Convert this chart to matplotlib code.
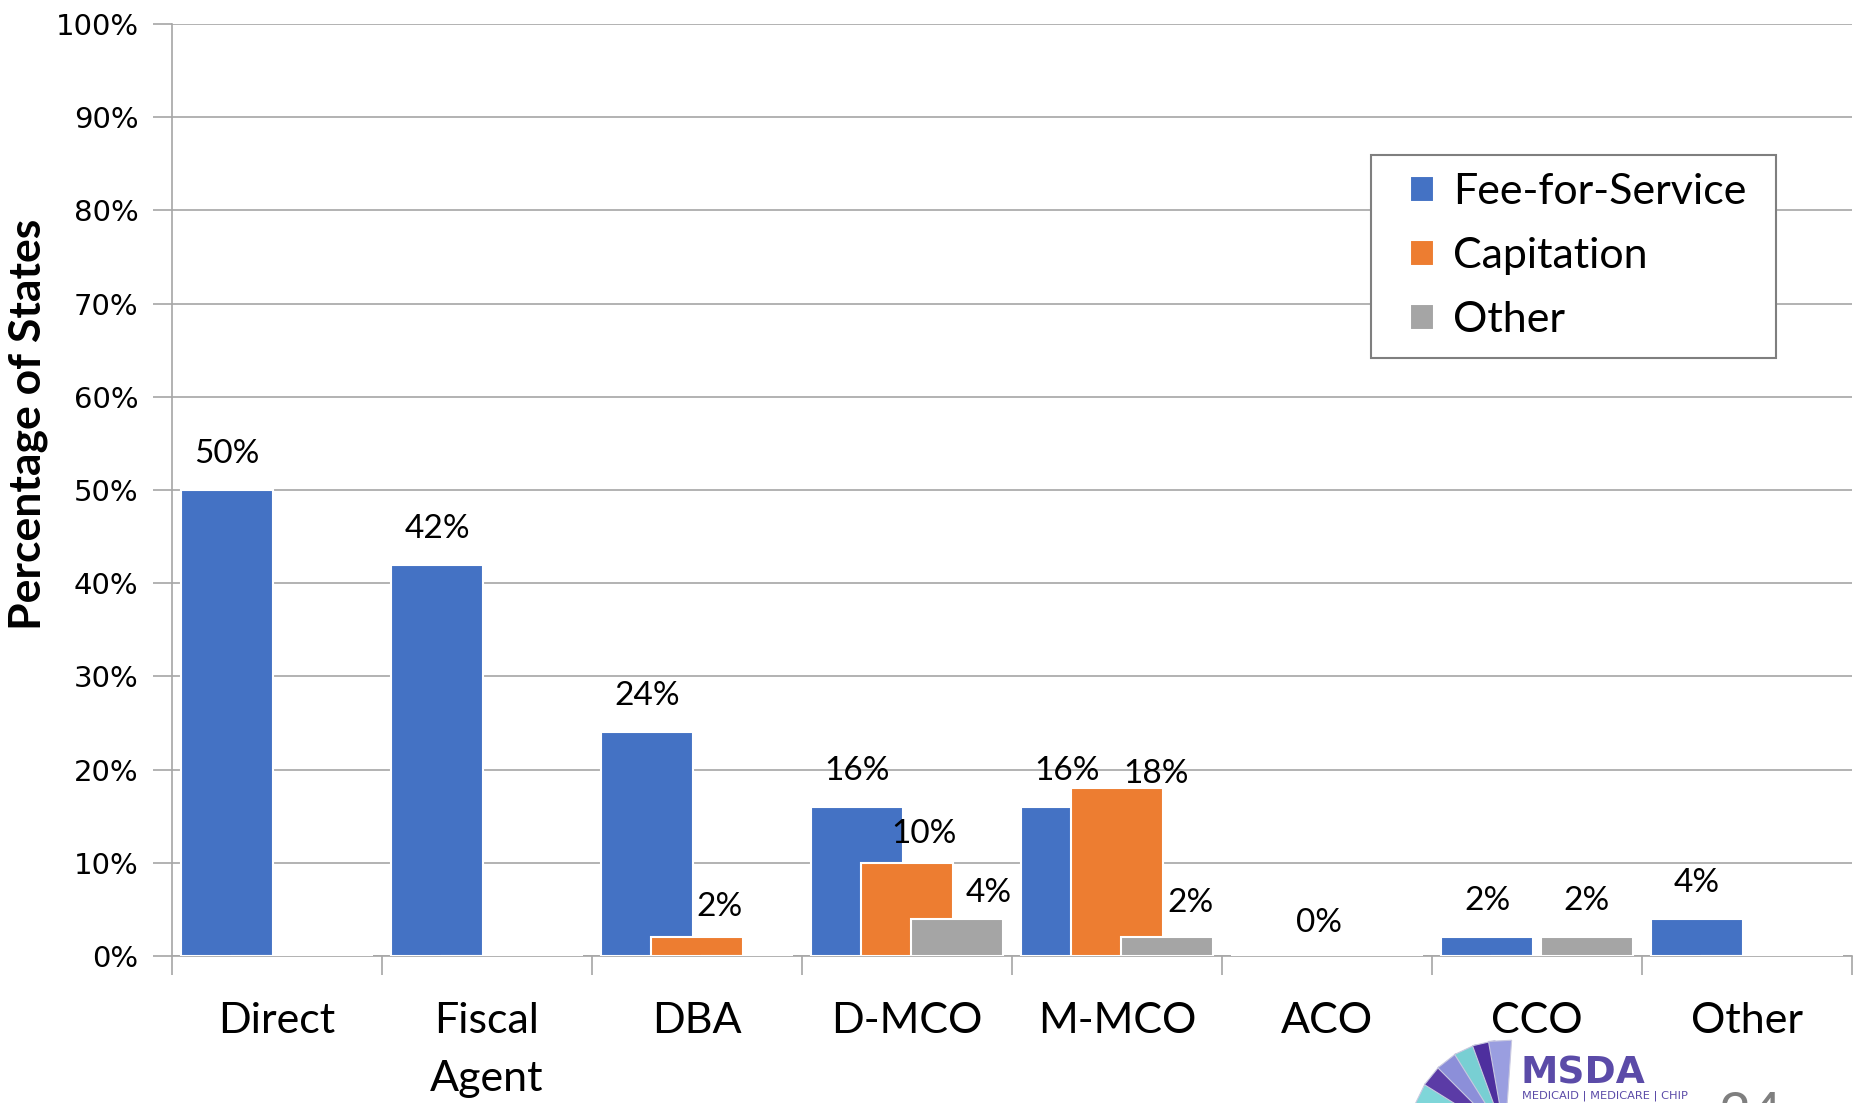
import numpy as np
import matplotlib
matplotlib.use("Agg")
import matplotlib.pyplot as plt
from matplotlib.patches import Polygon, Rectangle
from matplotlib.ticker import FuncFormatter

# ---- data ----
categories = ["Direct", "Fiscal\nAgent", "DBA", "D-MCO", "M-MCO", "ACO", "CCO", "Other"]
series_names = ["Fee-for-Service", "Capitation", "Other"]
fee_for_service = [50, 42, 24, 16, 16, np.nan, 2, 4]
capitation = [np.nan, np.nan, 2, 10, 18, 0, np.nan, np.nan]
other = [np.nan, np.nan, np.nan, 4, 2, np.nan, 2, np.nan]
y_ticks = [0, 10, 20, 30, 40, 50, 60, 70, 80, 90, 100]

# ---- style ----
colors = ["#4472C4", "#ED7D31", "#A5A5A5"]
grid_c = "#A6A6A6"
W, H = 1864, 1103
fig = plt.figure(figsize=(W / 100, H / 100), dpi=100)
ax = fig.add_axes([172 / W, 1 - 956 / H, (1852 - 172) / W, (956 - 24) / H])

series = [fee_for_service, capitation, other]
bar_w = 0.44
offsets = [-0.238, 0.0, 0.238]
x = np.arange(len(categories))

# label nudges (pixels): (series index, category index) -> (dx, dy above bar top)
nudge = {(1, 2): (23, 30), (1, 3): (17, 29), (2, 3): (32, 26),
         (1, 4): (39, 14), (2, 4): (24, 34), (1, 5): (-8, 33)}

handles = []
for si, vals in enumerate(series):
    v = np.array(vals, dtype=float)
    b = ax.bar(x + offsets[si], np.nan_to_num(v), width=bar_w, color=colors[si],
               edgecolor="white", linewidth=1.5, zorder=3 + si, label=series_names[si])
    handles.append(b)
    for ci, val in enumerate(v):
        if np.isnan(val):
            continue
        dx, dy = nudge.get((si, ci), (0, 36))
        ax.annotate(f"{val:.0f}%", xy=(x[ci] + offsets[si], val),
                    xytext=(dx, dy), textcoords="offset pixels",
                    ha="center", va="center", fontsize=24, family="Lato",
                    color="black", zorder=10)

ax.set_xlim(-0.5, len(categories) - 0.5)
ax.set_ylim(0, 100)
ax.set_yticks(y_ticks)
ax.yaxis.set_major_formatter(FuncFormatter(lambda v, p: f"{v:.0f}%"))
ax.yaxis.grid(True, color=grid_c, linewidth=1.2, zorder=0)
ax.set_axisbelow(True)
for s in ["top", "right"]:
    ax.spines[s].set_visible(False)
ax.spines["left"].set_color(grid_c)
ax.spines["bottom"].set_color(grid_c)
ax.spines["left"].set_linewidth(1.2)
ax.spines["bottom"].set_linewidth(1.2)

ax.tick_params(axis="y", length=14, color=grid_c, width=1.2, labelsize=21, pad=10)
for lab in ax.get_yticklabels():
    lab.set_family("DejaVu Sans")

# x: major ticks at boundaries, minor at centers with labels
ax.set_xticks(np.arange(len(categories) + 1) - 0.5)
ax.set_xticklabels([])
ax.tick_params(axis="x", which="major", length=14, color=grid_c, width=1.2)
ax.set_xticks(x, minor=True)
ax.set_xticklabels(categories, minor=True, fontsize=31, family="Lato", linespacing=1.65)
ax.tick_params(axis="x", which="minor", length=0, pad=33)

ax.set_ylabel("Percentage of States", fontsize=32, fontweight="bold", family="Lato")
ax.yaxis.set_label_coords(-0.074, 0.57)

# legend (frame drawn separately to match box proportions)
fig.patches.append(Rectangle((1371 / W, 1 - 358 / H), (1776 - 1371) / W, (358 - 155) / H,
                             transform=fig.transFigure, facecolor="white",
                             edgecolor="#7F7F7F", linewidth=1.5, zorder=19))
leg = fig.legend(handles=handles, labels=series_names, loc="center left",
                 bbox_to_anchor=(1410 / W, 1 - 256 / H),
                 fontsize=31, frameon=False,
                 handlelength=0.55, handleheight=0.55, handletextpad=0.45,
                 labelspacing=0.6, borderpad=0, borderaxespad=0)
for t in leg.get_texts():
    t.set_family("Lato")
leg.set_zorder(20)

# ---- logo decoration ----
fan_cols = ["#7FD6D9", "#5B3BA6", "#8C8FD9", "#78CFD3", "#4E2F9E", "#9A9EE0"]
fan_angles = [154, 141, 128, 115, 103, 93]
cx, cy = 1505, 1135
for c, a in zip(fan_cols, fan_angles):
    a0 = np.deg2rad(a + 7)
    a1 = np.deg2rad(a - 7)
    r0, r1 = 25, 95
    pts = [(cx + r0 * np.cos(a0), cy - r0 * np.sin(a0)),
           (cx + r1 * np.cos(a0), cy - r1 * np.sin(a0)),
           (cx + r1 * np.cos(a1), cy - r1 * np.sin(a1)),
           (cx + r0 * np.cos(a1), cy - r0 * np.sin(a1))]
    pts = [(px / W, 1 - py / H) for px, py in pts]
    fig.patches.append(Polygon(pts, closed=True, transform=fig.transFigure,
                               facecolor=c, edgecolor="#C8C8E0", linewidth=0.8))
fig.text(1520 / W, 1 - 1074 / H, "MSDA", fontsize=27, fontweight="bold",
         color="#5B4BA8", family="DejaVu Sans", va="center", ha="left")
fig.text(1522 / W, 1 - 1096 / H, "MEDICAID | MEDICARE | CHIP", fontsize=8.2,
         color="#5B4BA8", family="DejaVu Sans", va="center", ha="left")
fig.text(1718 / W, 1 - 1116 / H, "24", fontsize=40, color="#7F7F7F",
         family="Lato", va="center", ha="left")

fig.savefig("out.png", dpi=100)
